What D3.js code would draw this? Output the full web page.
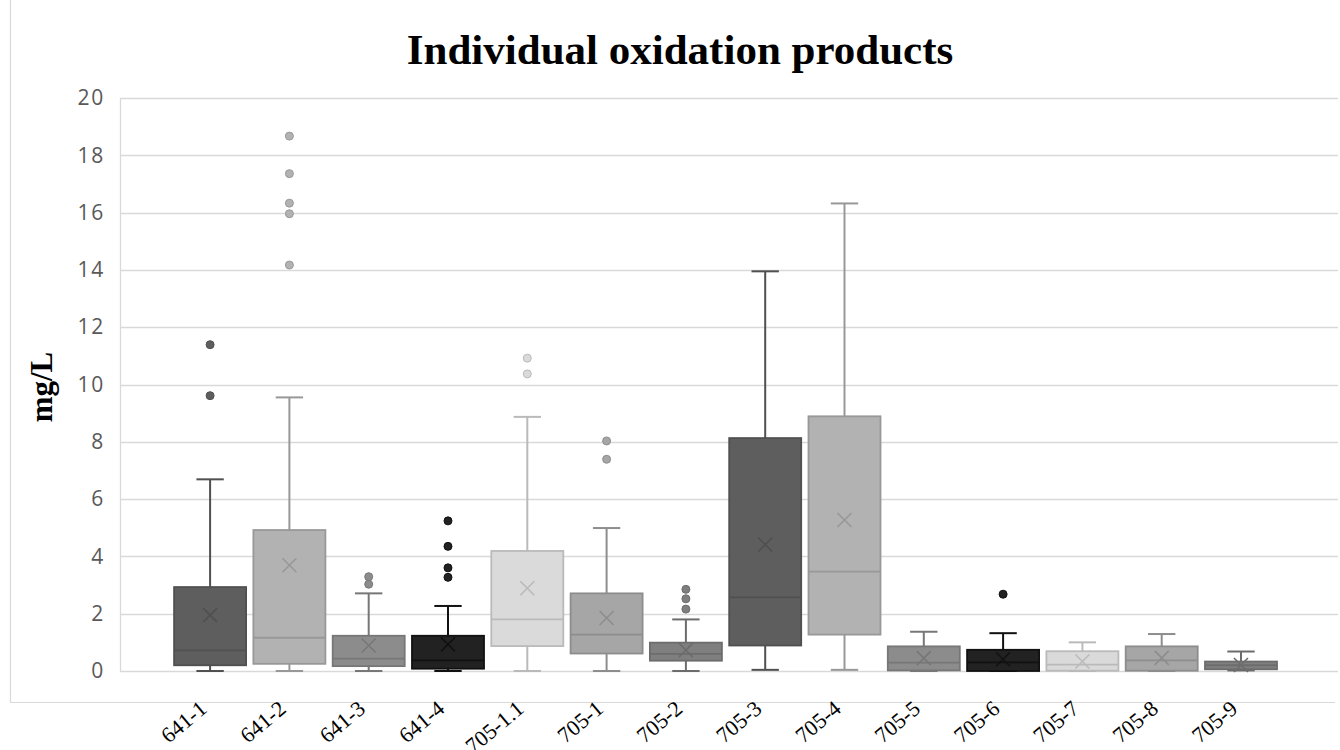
<!DOCTYPE html>
<html>
<head>
<meta charset="utf-8">
<script src="https://cdn.jsdelivr.net/npm/d3@7"></script>
<style>
  html, body { margin: 0; padding: 0; background: #fff; }
  svg { display: block; }
</style>
</head>
<body>
<svg id="chart" width="1340" height="750"></svg>
<script>
// ---- Data ----
const categories = ["641-1","641-2","641-3","641-4","705-1.1","705-1","705-2","705-3","705-4","705-5","705-6","705-7","705-8","705-9"];
const whiskerLow  = [0, 0, 0, 0, 0, 0, 0, 0.04, 0.04, 0, 0, 0, 0, 0.02];
const q1          = [0.2, 0.25, 0.17, 0.08, 0.87, 0.61, 0.36, 0.89, 1.27, 0.02, 0.0, 0.01, 0.01, 0.06];
const median      = [0.72, 1.16, 0.43, 0.37, 1.8, 1.27, 0.6, 2.57, 3.47, 0.29, 0.3, 0.22, 0.37, 0.2];
const q3          = [2.93, 4.92, 1.23, 1.23, 4.19, 2.71, 0.99, 8.13, 8.89, 0.86, 0.74, 0.69, 0.86, 0.33];
const whiskerHigh = [6.69, 9.55, 2.71, 2.27, 8.87, 4.99, 1.8, 13.95, 16.32, 1.37, 1.32, 1.0, 1.29, 0.68];
const means       = [1.95, 3.69, 0.89, 0.93, 2.89, 1.85, 0.73, 4.41, 5.27, 0.45, 0.41, 0.33, 0.46, 0.21];
const outliers    = [
  [9.61, 11.39],
  [14.17, 15.96, 16.33, 17.36, 18.67],
  [3.03, 3.29],
  [3.27, 3.6, 4.35, 5.24],
  [10.37, 10.92],
  [7.39, 8.03],
  [2.16, 2.52, 2.85],
  [], [], [],
  [2.68],
  [], [], []
];
const yTicks = [0, 2, 4, 6, 8, 10, 12, 14, 16, 18, 20];
const palette = ["#5e5e5e","#b2b2b2","#8c8c8c","#222222","#dadada","#a6a6a6","#7f7f7f"];

const svg = d3.select("#chart");

// outer frame
svg.append("path")
  .attr("d", "M10.5,0 V702.5 H1335")
  .attr("fill", "none").attr("stroke", "#d9d9d9").attr("stroke-width", 1.2);

const plotLeft = 120, plotRight = 1338, plotTop = 98, plotBottom = 671;

const y = d3.scaleLinear().domain([0, 20]).range([plotBottom, plotTop]);
const x = d3.scaleBand().domain(categories).range([166.8, 1284.3]).padding(0.092);
const color = d3.scaleOrdinal().domain(categories).range(palette);

// gridlines
svg.append("g").selectAll("line").data(yTicks).join("line")
  .attr("x1", plotLeft).attr("x2", plotRight)
  .attr("y1", d => Math.round(y(d)) + 0.5).attr("y2", d => Math.round(y(d)) + 0.5)
  .attr("stroke", "#d9d9d9").attr("stroke-width", 1.3);
svg.append("line")
  .attr("x1", plotLeft + 0.5).attr("x2", plotLeft + 0.5)
  .attr("y1", plotTop).attr("y2", plotBottom)
  .attr("stroke", "#d9d9d9").attr("stroke-width", 1.3);

// y axis labels
const yAxis = d3.axisLeft(y).tickValues(yTicks).tickSize(0).tickPadding(0);
const gy = svg.append("g").attr("transform", "translate(105,0)").call(yAxis);
gy.select(".domain").remove();
gy.selectAll("text")
  .attr("font-family", "'Open Sans', sans-serif")
  .attr("font-size", 21)
  .attr("letter-spacing", 1.8)
  .attr("fill", "#595959");

// boxes
const data = categories.map((c, i) => ({
  c, lo: whiskerLow[i], q1: q1[i], med: median[i], q3: q3[i], hi: whiskerHigh[i],
  mean: means[i], out: outliers[i]
}));

const bw = x.bandwidth();
const capW = bw * 0.38;

const g = svg.append("g").selectAll("g").data(data).join("g")
  .attr("transform", d => `translate(${x(d.c)},0)`);

function strokeOf(c) {
  if (c === "#222222") return "#111111";
  return d3.color(c).darker(0.45).formatHex();
}

// whiskers
g.append("line")
  .attr("x1", bw/2).attr("x2", bw/2)
  .attr("y1", d => y(d.q3)).attr("y2", d => y(d.hi))
  .attr("stroke", d => strokeOf(color(d.c))).attr("stroke-width", 2);
g.append("line")
  .attr("x1", bw/2).attr("x2", bw/2)
  .attr("y1", d => y(d.q1)).attr("y2", d => y(d.lo))
  .attr("stroke", d => strokeOf(color(d.c))).attr("stroke-width", 2);
g.append("line")
  .attr("x1", bw/2 - capW/2).attr("x2", bw/2 + capW/2)
  .attr("y1", d => y(d.hi)).attr("y2", d => y(d.hi))
  .attr("stroke", d => strokeOf(color(d.c))).attr("stroke-width", 2);
g.append("line")
  .attr("x1", bw/2 - capW/2).attr("x2", bw/2 + capW/2)
  .attr("y1", d => y(d.lo)).attr("y2", d => y(d.lo))
  .attr("stroke", d => strokeOf(color(d.c))).attr("stroke-width", 2);

// box
g.append("rect")
  .attr("x", 0).attr("width", bw)
  .attr("y", d => y(d.q3)).attr("height", d => Math.max(1, y(d.q1) - y(d.q3)))
  .attr("fill", d => color(d.c))
  .attr("stroke", d => strokeOf(color(d.c))).attr("stroke-width", 1.8);

// median
g.append("line")
  .attr("x1", 0).attr("x2", bw)
  .attr("y1", d => y(d.med)).attr("y2", d => y(d.med))
  .attr("stroke", d => strokeOf(color(d.c))).attr("stroke-width", 1.8);

// mean X
const xs = 7;
g.append("path")
  .attr("d", d => {
    const cx = bw/2, cy = y(d.mean);
    return `M${cx-xs},${cy-xs}L${cx+xs},${cy+xs}M${cx-xs},${cy+xs}L${cx+xs},${cy-xs}`;
  })
  .attr("stroke", d => strokeOf(color(d.c))).attr("stroke-width", 1.6).attr("fill", "none");

// outliers
g.selectAll("circle").data(d => d.out.map(v => ({v, c: d.c}))).join("circle")
  .attr("cx", bw/2).attr("cy", d => y(d.v)).attr("r", 4)
  .attr("fill", d => color(d.c))
  .attr("stroke", d => strokeOf(color(d.c))).attr("stroke-width", 1);

// x labels
svg.append("g").selectAll("text").data(categories).join("text")
  .attr("transform", d => `translate(${x(d) + bw/2 - 2},${711}) rotate(-40)`)
  .attr("text-anchor", "end")
  .attr("font-family", "'Liberation Serif', 'Times New Roman', serif")
  .attr("font-size", 22)
  .attr("fill", "#000")
  .text(d => d);

// title
svg.append("text")
  .attr("x", 680).attr("y", 64)
  .attr("text-anchor", "middle")
  .attr("font-family", "'Liberation Serif', 'Times New Roman', serif")
  .attr("font-weight", "bold")
  .attr("font-size", 43)
  .attr("fill", "#000")
  .text("Individual oxidation products");

// y axis title
svg.append("text")
  .attr("transform", "translate(52,387) rotate(-90)")
  .attr("text-anchor", "middle")
  .attr("font-family", "'Liberation Serif', 'Times New Roman', serif")
  .attr("font-weight", "bold")
  .attr("font-size", 31)
  .attr("fill", "#000")
  .text("mg/L");
</script>
</body>
</html>
